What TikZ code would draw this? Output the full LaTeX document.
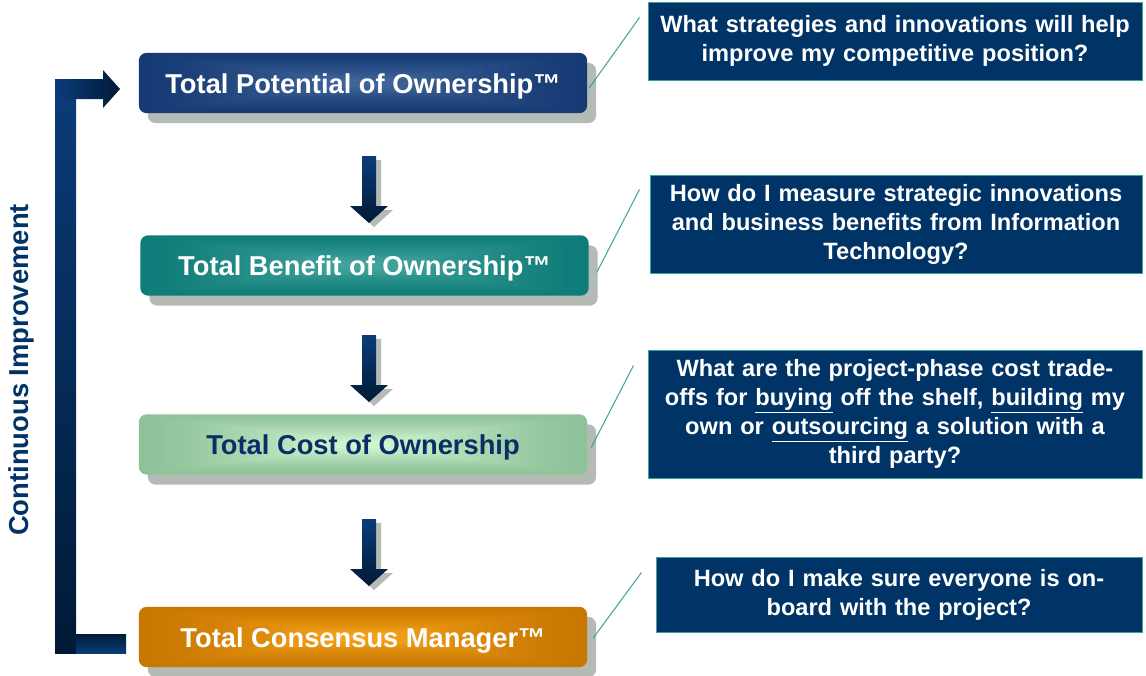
\documentclass[tikz,border=0pt]{standalone}
\usepackage{fontspec}
\setmainfont{Liberation Sans}
\usetikzlibrary{calc,backgrounds}

\definecolor{navy}{HTML}{003366}
\definecolor{navytext}{HTML}{0A2E66}
\definecolor{tealline}{HTML}{3AA39B}
\definecolor{shadowgray}{HTML}{B4BAB4}
\definecolor{arrowtop}{HTML}{0B3C7A}
\definecolor{arrowbot}{HTML}{001A36}
\definecolor{aIn}{HTML}{3F6499}
\definecolor{aOut}{HTML}{163B74}
\definecolor{bIn}{HTML}{42A39E}
\definecolor{bOut}{HTML}{0E7C78}
\definecolor{cIn}{HTML}{CFF4CF}
\definecolor{cOut}{HTML}{8EC29A}
\definecolor{dIn}{HTML}{F4A018}
\definecolor{dOut}{HTML}{C87700}

\newcommand\stagefont{\fontsize{27.3}{32}\selectfont\bfseries}
\newcommand\askfont{\fontsize{23.6}{29}\selectfont\bfseries}
\newcommand\loopfont{\fontsize{27.4}{32}\selectfont\bfseries}

% a stage box: offset grey shadow, then a rounded panel whose colour
% brightens towards the middle in small concentric steps
\newcommand\stagepanel[3]{%
  \fill[shadowgray, rounded corners=8pt]
    ($(#1.south west)+(9,10)$) rectangle ($(#1.north east)+(9,10)$);
  \foreach \k in {0,...,23}{%
    \pgfmathsetmacro\f{\k/24*0.92}%
    \pgfmathtruncatemacro\p{round(100*(\k/23)^1.3)}%
    \pgfmathsetmacro\r{max(1,8*(1-\f))}%
    \fill[#2!\p!#3, rounded corners=\r pt]
      ($(#1.south west)+(\f*224,-\f*30)$) rectangle ($(#1.north east)+(-\f*224,\f*30)$);
  }%
}

\tikzset{
  stage/.style={minimum width=448pt, minimum height=60pt, inner sep=0pt,
    font=\stagefont, text height=20pt, text depth=0pt},
  askbox/.style={fill=navy, draw=tealline, line width=1pt, text=white,
    font=\askfont, align=center, inner sep=0pt, text width=480pt},
  leader/.style={draw=tealline, line width=1pt},
  pics/downarrow/.style={code={
    \fill[shadowgray, shift={(5,4)}] (-7,0) -- (7,0) -- (7,50) -- (19,50) -- (0,67) -- (-19,50) -- (-7,50) -- cycle;
    \shade[top color=arrowtop, bottom color=arrowbot] (-7,0) -- (7,0) -- (7,50) -- (19,50) -- (0,67) -- (-19,50) -- (-7,50) -- cycle;
  }}
}

\begin{document}
\begin{tikzpicture}[x=1pt,y=-1pt]
\useasboundingbox (0,0) rectangle (1146,675);

% feedback loop arrow on the left
\shade[top color=arrowtop, bottom color=arrowbot] (55,79) rectangle (76,653);
\shade[left color=arrowtop, right color=arrowbot]
  (55,79) -- (103,79) -- (103,70) -- (120,89) -- (103,108) -- (103,99) -- (55,99) -- cycle;
\shade[top color=arrowbot, bottom color=arrowtop] (76,634) rectangle (126,653);
\node[rotate=90, text=navy, font=\loopfont] (loop) at (21.5,370) {Continuous Improvement};

% stages
\node[stage, text=white] (tpo) at (363,83) {Total Potential of Ownership™};
\node[stage, text=white] (tbo) at (364.5,265.5) {Total Benefit of Ownership™};
\node[stage, text=navytext] (tco) at (363,444.5) {Total Cost of Ownership};
\node[stage, text=white] (tcm) at (363,637) {Total Consensus Manager™};

\begin{scope}[on background layer]
  \fill[white] (0,0) rectangle (1146,675);
  \stagepanel{tpo}{aIn}{aOut}
  \stagepanel{tbo}{bIn}{bOut}
  \stagepanel{tco}{cIn}{cOut}
  \stagepanel{tcm}{dIn}{dOut}
\end{scope}

% block arrows between stages
\pic at (369,156) {downarrow};
\pic at (369,335) {downarrow};
\pic at (369,519) {downarrow};

% questions
\node[askbox, minimum width=494pt, minimum height=78pt] (q1) at (895,41)
  {What strategies and innovations will help\\improve my competitive position?};
\node[askbox, minimum width=492pt, minimum height=98pt] (q2) at (896,224)
  {How do I measure strategic innovations\\and business benefits from Information\\Technology?};
\node[askbox, minimum width=494pt, minimum height=128pt] (q3) at (895,414)
  {What are the project-phase cost trade-\\offs for \underline{buying} off the shelf, \underline{building} my\\own or \underline{outsourcing} a solution with a\\third party?};
\node[askbox, minimum width=486pt, minimum height=75pt] (q4) at (899,594.5)
  {How do I make sure everyone is on-\\board with the project?};

% leader lines
\draw[leader] ($(tpo.east)+(2,5)$) -- ($(q1.north west)+(-8,16)$);
\draw[leader] ($(tbo.east)+(8,7)$) -- ($(q2.north west)+(-10,15)$);
\draw[leader] ($(tco.east)+(4,3)$) -- ($(q3.north west)+(-14,16)$);
\draw[leader] ($(tcm.east)+(6,1)$) -- ($(q4.north west)+(-14,16)$);
\end{tikzpicture}
\end{document}
